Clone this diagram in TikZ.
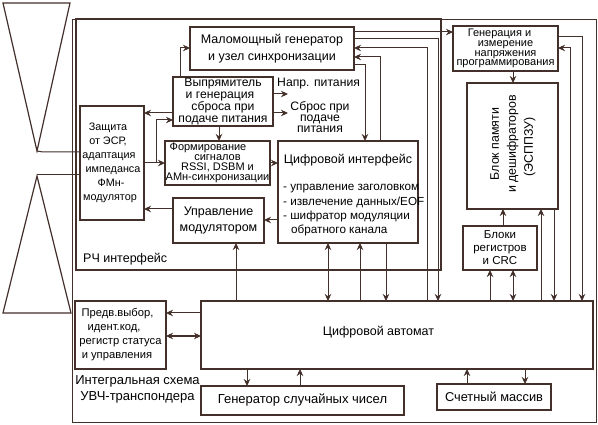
\documentclass[tikz,border=0pt]{standalone}
\usepackage{fontspec}
\setmainfont{Liberation Sans}
\usetikzlibrary{arrows.meta}
\definecolor{brn}{HTML}{43302A}
\begin{document}
\begin{tikzpicture}[x=1pt, y=-1pt, font=\fontsize{10.8}{14}\selectfont,
  b/.style={draw=brn, line width=1.7pt, anchor=north west, align=center, inner sep=0pt, outer sep=0pt},
  w/.style={draw=brn, line width=1pt},
  ar/.style={w, -{Stealth[length=7pt, width=6.5pt]}},
  da/.style={w, {Stealth[length=7pt, width=6.5pt]}-{Stealth[length=7pt, width=6.5pt]}},
  tl/.style={align=center, inner sep=0pt},
  big/.style={font=\fontsize{12.5}{16.5}\selectfont},
  mid/.style={font=\fontsize{12.8}{14}\selectfont}]
\useasboundingbox (0,0) rectangle (598,425);
\node[b, big, minimum width=164pt, minimum height=43pt] (lowgen) at (190,27) {Маломощный генератор\\и узел синхронизации};
\node[b, minimum width=100pt, minimum height=49pt, font=\fontsize{12.2}{11.4}\selectfont] (rect) at (173,77) {Выпрямитель\\\hspace*{-6pt}и генерация\\сброса при\\подаче питания};
\node[b, minimum width=64pt, minimum height=114pt] (prot) at (80,106) {\hspace*{-8pt}Защита\\\hspace*{-8pt}от ЭСР,\\\hspace*{-6pt}адаптация\\\hspace*{2pt}импеданса\\\hspace*{-2pt}ФМн-\\\hspace*{-4pt}модулятор};
\node[b, minimum width=105pt, minimum height=44pt, font=\fontsize{11}{10.1}\selectfont] (sig) at (165,141) {Формирование\hspace*{19pt}\\сигналов\hspace*{18pt}\\RSSI, DSBM и\hspace*{5pt}\\АМн-синхронизации};
\node[b, big, minimum width=91pt, minimum height=45pt] (mod) at (173,198) {Управление\\модулятором};
\node[b, minimum width=140pt, minimum height=102pt] (dig) at (278,141) {};
\node[big, tl] (digtxt) at (348,160) {Цифровой интерфейс};
\node[tl, align=left, anchor=north west, font=\fontsize{11.7}{14.3}\selectfont] (diglist) at (283,184.5) {- управление заголовком\\- извлечение данных/EOF\\- шифратор модуляции\\\hspace*{8pt}обратного канала};
\node[b, minimum width=105pt, minimum height=45pt, font=\fontsize{11}{9.8}\selectfont] (hv) at (453,26) {Генерация и\hspace*{12pt}\\измерение\hspace*{13pt}\\напряжения\hspace*{8pt}\\программирования};
\node[b, minimum width=91pt, minimum height=126pt] (mem) at (467,83) {};
\node[tl, rotate=90, font=\fontsize{12.4}{17}\selectfont] (memtxt) at (513,144) {Блок памяти\\и дешифраторов\\\hspace*{-6pt}(ЭСППЗУ)};
\node[b, minimum width=74pt, minimum height=44pt, font=\fontsize{11.5}{13}\selectfont] (reg) at (463,226) {Блоки\\регистров\\и CRC};
\node[b, minimum width=392pt, minimum height=68pt] (fsm) at (201,301) {};
\node[tl, font=\fontsize{12.5}{14}\selectfont] (fsmtxt) at (378.5,332) {Цифровой автомат};
\node[b, minimum width=91pt, minimum height=68pt, font=\fontsize{11.2}{14}\selectfont] (pre) at (75,301) {\hspace*{-6pt}Предв.выбор,\\\hspace*{-13pt}идент.код,\\регистр статуса\\\hspace*{-7pt}и управления};
\node[b, minimum width=203pt, minimum height=29pt, font=\fontsize{13}{14}\selectfont] (rng) at (201,386) {Генератор случайных чисел};
\node[b, mid, minimum width=114pt, minimum height=26pt] (cnt) at (437,384) {Счетный массив};
\node[tl, anchor=west, font=\fontsize{12.2}{14}\selectfont] (pwr) at (277,84) {Напр. питания};
\node[tl, font=\fontsize{12.2}{11.2}\selectfont] (rst) at (320,117) {Сброс при\\подаче\\питания};
\node[tl, anchor=west, font=\fontsize{12.5}{14}\selectfont] (rf) at (83,259) {РЧ интерфейс};
\node[tl, font=\fontsize{13}{16}\selectfont] (ic) at (137.5,389) {Интегральная схема\\УВЧ-транспондера};
\draw[w, line width=.9pt] (72,19) rectangle (596,422);
\draw[b] (76,19) rectangle (441,270);
\draw[w, line width=1.2pt] (3,3) -- (70,3) -- (37,151) -- cycle;
\draw[w, line width=1.2pt] (37,176) -- (71,313) -- (3,313) -- cycle;
\coordinate (anta) at (37,151);
\coordinate (antb) at (37,175);
\coordinate (tap) at (156,163);
\draw[w] (anta) -- (43,152) -- (prot.west |- 0,152);
\draw[w] (antb) -- (prot.west |- 0,175);
\draw[ar] (rect.north -| 180,0) |- (lowgen.west |- 0,48);
\draw[ar] (rect.west |- 0,113) -- (prot.east |- 0,113);
\draw[ar] (tap) |- (rect.west |- 0,120);
\draw[ar] (prot.east |- tap) -- (sig.west |- tap);
\draw[ar] (rect.south -| 219,0) -- (sig.north -| 219,0);
\draw[ar] (sig.east |- tap) -- (dig.west |- tap);
\draw[ar] (rect.east |- 0,94) -- (288,94);
\draw[ar] (rect.east |- 0,113) -- (288,113);
\draw[ar] (mod.west |- 0,209) -- (prot.east |- 0,209);
\draw[ar] (dig.west |- 0,220) -- (mod.east |- 0,220);
\draw[ar] (fsm.north -| 236,0) -- (mod.south -| 236,0);
\draw[ar] (lowgen.east |- 0,32) -- (hv.west |- 0,32);
\draw[ar] (lowgen.east |- 0,39) -| (fsm.north -| 438,0);
\draw[ar] (fsm.north -| 427,0) |- (lowgen.east |- 0,48);
\draw[ar] (dig.north -| 380,0) |- (lowgen.east |- 0,57);
\draw[ar] (lowgen.east |- 0,65) -| (dig.north -| 365,0);
\draw[da] (dig.south -| 328,0) -- (fsm.north -| 328,0);
\draw[ar] (fsm.north -| 360,0) -- (dig.south -| 360,0);
\draw[ar] (dig.south -| 386,0) -- (fsm.north -| 386,0);
\draw[ar] (hv.south -| 513,0) -- (mem.north -| 513,0);
\draw[ar] (hv.east |- 0,37) -| (fsm.north -| 582,0);
\draw[ar] (fsm.north -| 570,0) |- (hv.east |- 0,48);
\draw[ar] (reg.north -| 503,0) -- (mem.south -| 503,0);
\draw[ar] (fsm.north -| 541,0) -- (mem.south -| 541,0);
\draw[ar] (mem.south -| 554,0) -- (fsm.north -| 554,0);
\draw[ar] (fsm.north -| 490,0) -- (reg.south -| 490,0);
\draw[da] (fsm.north -| 513,0) -- (reg.south -| 513,0);
\draw[ar] (fsm.south -| 525,0) -- (cnt.north -| 525,0);
\draw[ar] (cnt.north -| 467,0) -- (fsm.south -| 467,0);
\draw[ar] (fsm.south -| 247,0) -- (rng.north -| 247,0);
\draw[ar] (rng.north -| 300,0) -- (fsm.south -| 300,0);
\draw[ar] (fsm.west |- 0,313) -- (pre.east |- 0,313);
\draw[da] (fsm.west |- 0,336) -- (pre.east |- 0,336);
\end{tikzpicture}
\end{document}
